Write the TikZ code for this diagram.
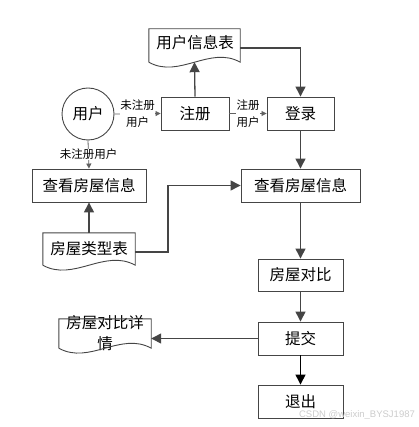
\documentclass[tikz,border=0pt]{standalone}
\usepackage{fontspec}
\setmainfont{Liberation Sans}
\newfontfamily\cjk{Noto Sans CJK SC}
\usetikzlibrary{arrows.meta,calc}
\definecolor{ln}{HTML}{454545}
\newcommand\docwave[1]{%
  \draw[ln, line width=0.9pt] (#1.south west) -- (#1.north west) -- (#1.north east) -- (#1.south east)
    .. controls ($(#1.south east)!0.33!(#1.south west)+(0,-17)$) and ($(#1.south east)!0.67!(#1.south west)+(0,17)$) .. (#1.south west);}
\begin{document}
\begin{tikzpicture}[x=1pt,y=-1pt,
  txt/.style={font=\cjk\fontsize{15.5}{21}\selectfont},
  box/.style={txt, draw=ln, line width=0.9pt, fill=white, minimum height=33pt, inner sep=0pt},
  docn/.style={txt, inner sep=0pt, align=center},
  conn/.style={draw=ln, line width=1.3pt, -{Triangle[length=10pt,width=10pt]}},
  thinconn/.style={draw=ln!85, line width=0.8pt, -{Triangle[length=5pt,width=5pt]}},
  lbl/.style={fill=white, inner sep=0.5pt, align=center, font=\cjk\fontsize{11.5}{17}\selectfont}
]
\useasboundingbox (0,0) rectangle (418,427);

% nodes
\node[docn, minimum width=91pt, minimum height=33pt] (uinfo) at (194.5,45.5) {};
\node[txt] at (195,43) {用户信息表};
\node[txt, draw=ln, line width=0.9pt, circle, minimum size=52pt, inner sep=0pt] (user) at (88,114) {用户};
\node[box, minimum width=68pt] (reg) at (195,113.5) {注册};
\node[box, minimum width=67pt] (login) at (300.5,113.5) {登录};
\node[box, minimum width=114pt] (viewL) at (89,185.5) {查看房屋信息};
\node[box, minimum width=119pt] (viewR) at (300.5,185.5) {查看房屋信息};
\node[docn, minimum width=92pt, minimum height=32pt] (typ) at (89,249) {};
\node[txt] at (89,249) {房屋类型表};
\node[box, minimum width=85pt, minimum height=32pt] (cmp) at (300.5,275) {房屋对比};
\node[box, minimum width=85pt] (sub) at (300.5,338.5) {提交};
\node[box, minimum width=85pt] (exit) at (300.5,401.5) {退出};
\node[docn, minimum width=92pt, minimum height=29pt] (detail) at (105,333.5) {};
\node[txt, align=center] at (105,333.5) {房屋对比详\\情};

\docwave{uinfo}
\docwave{typ}
\docwave{detail}

% connectors
\draw[thinconn] (user.east) -- node[lbl] {未注册\\用户} (reg.west);
\draw[thinconn] (reg.east) -- node[lbl] {注册\\用户} (login.west);
\draw[thinconn] (user.south) -- node[lbl] {未注册用户} (viewL.north);
\draw[conn] (reg.north) -- (uinfo.south);
\draw[conn] (uinfo.east |- 0,48) -| (login.north);
\draw[conn] (login.south) -- (viewR.north);
\draw[conn] (typ.north) -- (viewL.south);
\coordinate (bend) at (168,252);
\draw[conn] (typ.east |- bend) -- (bend) |- (viewR.west);
\draw[conn] (viewR.south) -- (cmp.north);
\draw[conn] (cmp.south) -- (sub.north);
\draw[conn] (sub.west) -- (detail.east |- sub.west);
\draw[conn, draw=black] (sub.south) -- (exit.north);

\node[text=gray!40, font=\fontsize{9.5}{11}\selectfont] (wm) at (357,415) {CSDN @weixin\_BYSJ1987};
\end{tikzpicture}
\end{document}
